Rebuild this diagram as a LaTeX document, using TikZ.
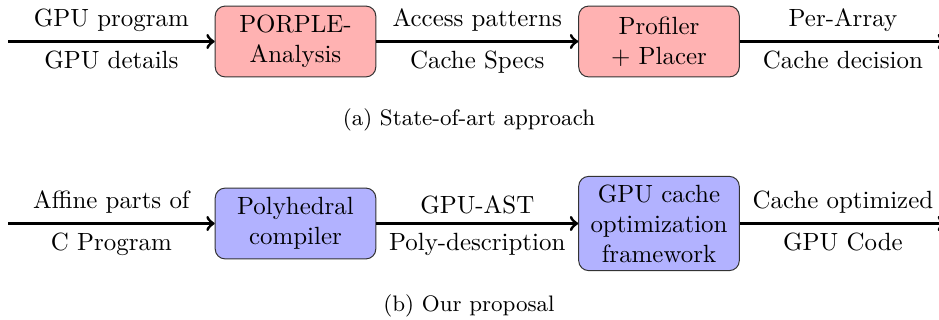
\documentclass[tikz,border=0pt]{standalone}
\usetikzlibrary{positioning}
\begin{document}
\begin{tikzpicture}[x=0.4016pt,y=-0.4016pt,
  procbox/.style={draw=black!80, rounded corners=4pt, minimum width=64.5pt,
    minimum height=1cm, text width=57pt, align=center, inner sep=3.333pt},
  redbox/.style={procbox, fill=red!30},
  bluebox/.style={procbox, fill=blue!30},
  flow/.style={->, very thick},
  captext/.style={font=\small}]
\useasboundingbox (0,0) rectangle (939,320);
% top row
\coordinate (a0) at (8,41.5);
\coordinate (a3) at (946,41.5);
\node[redbox] (porple) at (295.5,41.5) {PORPLE-\\Analysis};
\node[redbox] (prof) at (659,41.5) {Profiler\\+ Placer};
\draw[flow] (a0) -- node[above] {GPU program} node[below] {GPU details} (porple);
\draw[flow] (porple) -- node[above] {Access patterns} node[below] {Cache Specs} (prof);
\draw[flow] (prof) -- node[above] {Per-Array} node[below] {Cache decision} (a3);
\node[captext] (capa) at (469,119.5) {(a) State-of-art approach};
% bottom row
\coordinate (b0) at (8,223.5);
\coordinate (b3) at (946,223.5);
\node[bluebox] (poly) at (295.5,223.5) {Polyhedral\\compiler};
\node[bluebox] (gcf) at (659,223.5) {GPU cache\\optimization\\framework};
\draw[flow] (b0) -- node[above] {Affine parts of} node[below] {C Program} (poly);
\draw[flow] (poly) -- node[above] {GPU-AST} node[below] {Poly-description} (gcf);
\draw[flow] (gcf) -- node[above] {Cache optimized} node[below] {GPU Code} (b3);
\node[captext] (capb) at (469,306) {(b) Our proposal};
\end{tikzpicture}
\end{document}
